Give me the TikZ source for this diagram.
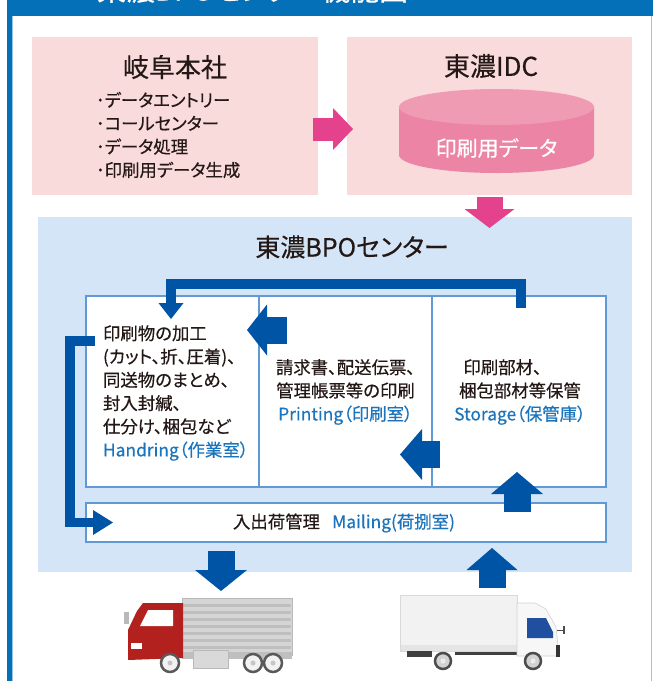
\documentclass[tikz,border=0pt]{standalone}
\usepackage{fontspec}
\setmainfont{Noto Sans CJK JP}[FakeBold=0.45,RawFeature=+palt]
\usetikzlibrary{arrows.meta,calc}

\definecolor{frameblue}{HTML}{0470B8}
\definecolor{framelight}{HTML}{9CC3E6}
\definecolor{pinkbg}{HTML}{F9DBDB}
\definecolor{arrowpink}{HTML}{E5428D}
\definecolor{cyltop}{HTML}{F09BB4}
\definecolor{cylside}{HTML}{EC84A6}
\definecolor{bpobg}{HTML}{D3E5F6}
\definecolor{roomline}{HTML}{5F9AD4}
\definecolor{arrowblue}{HTML}{0054A6}
\definecolor{textblue}{HTML}{1C75BC}
\definecolor{textdark}{HTML}{231815}
\definecolor{truckred}{HTML}{B3211E}
\definecolor{cabblue}{HTML}{1F4F9E}

\begin{document}
\begin{tikzpicture}[x=1pt,y=-1pt,
  every node/.style={inner sep=0pt,outer sep=0pt},
  pinkbox/.style={fill=pinkbg,draw=none},
  bpobox/.style={fill=bpobg,draw=none},
  room/.style={fill=white,draw=roomline,line width=2pt},
  txt/.style={text=textdark},
  body/.style={txt,font=\fontsize{17.4}{23.3}\selectfont},
  blockarrow/.style n args={4}{draw=#4,line width=#1,line join=miter,
    -{Triangle[width=#2,length=#3,line width=0pt]}},
]
\useasboundingbox (0,0) rectangle (653,681);
\fill[white] (0,0) rectangle (653,681);

% outer frame
\fill[frameblue] (7,0) rectangle (12,681);
\fill[frameblue] (7,0) rectangle (653,16);
\draw[framelight,line width=0.8pt] (12.6,16) -- (12.6,681);
\draw[framelight,line width=1pt] (651.5,16) -- (651.5,681);
\node[anchor=base west,text=white,font=\fontsize{29}{29}\selectfont] (title) at (97,0.5) {東濃BPOセンター機能図};

% head office and data center
\node[pinkbox,minimum width=286pt,minimum height=158pt] (hq) at (175,116) {};
\node[pinkbox,minimum width=285pt,minimum height=158pt] (idc) at (489.5,116) {};
\node[txt,font=\fontsize{26}{26}\selectfont] (hqTitle) at (175,67) {岐阜本社};
\node[body,anchor=west,align=left] (hqList) at (96,135)
  {･データエントリー\\･コールセンター\\･データ処理\\･印刷用データ生成};
\node[txt,font=\fontsize{26}{26}\selectfont] (idcTitle) at (491,66) {東濃IDC};

% data cylinder
\fill[cylside] (399,107) -- (399,155)
  arc[start angle=180,end angle=360,x radius=97.5pt,y radius=18pt] -- (594,107) -- cycle;
\fill[cyltop] (496.5,107) ellipse[x radius=97.5pt,y radius=18pt];
\node[text=white,font=\fontsize{21}{21}\selectfont] (cyl) at (496.5,148) {印刷用データ};

% BPO center
\node[bpobox,minimum width=594pt,minimum height=355pt] (bpo) at (335,394.5) {};
\node[txt,font=\fontsize{25}{25}\selectfont] (bpoTitle) at (352,247) {東濃BPOセンター};

\node[room,minimum width=173pt,minimum height=191pt] (hnd) at (172.5,391) {};
\node[room,minimum width=173pt,minimum height=191pt] (prt) at (345.5,391) {};
\node[room,minimum width=174pt,minimum height=191pt] (sto) at (519,391) {};
\node[room,minimum width=520pt,minimum height=39pt] (mail) at (346,522.5) {};

\node[body,anchor=west,align=left] (hndText) at (103,393)
  {印刷物の加工\\(カット、折、圧着)、\\同送物のまとめ、\\封入封緘、\\仕分け、梱包など\\{\color{textblue}Handring（作業室）}};
\node[body,align=center] (prtText) at (345.5,392)
  {請求書、配送伝票、\\管理帳票等の印刷\\{\color{textblue}Printing（印刷室）}};
\node[body,align=center] (stoText) at (520,392)
  {印刷部材、\hspace*{2em}\\梱包部材等保管\\{\color{textblue}Storage（保管庫）}};
\node[body] (mailText) at (344,523)
  {入出荷管理\hspace{0.7em}{\color{textblue}Mailing(荷捌室)}};

% trucks
\coordinate (toTruck) at (221,591);
\coordinate (fromTruck) at (492,588);

% large truck, facing left
\fill[gray!33] (182,598) rectangle (292,655);
\foreach \yy in {604,611,...,648} \fill[gray!50] (183,\yy) rectangle (291,\yy+2.5);
\draw[gray!55,line width=0.6pt] (182,598) rectangle (292,655);
\fill[gray!50] (182,652) rectangle (292,659);
\fill[gray!30] (193,650) rectangle (228,668);
\draw[gray!55,line width=0.6pt] (193,650) rectangle (228,668);
\fill[truckred] (128,630) -- (137,611) -- (143,603) -- (183,603) -- (183,658) -- (128,660) -- cycle;
\fill[white] (140,626) -- (148,610) -- (173,610) -- (173,626) -- cycle;
\fill[white] (131,643) rectangle (142,649);
\fill[gray!55] (124,612) rectangle (129,624);
\foreach \cx in {170,253,273} {
  \filldraw[fill=gray!10,draw=gray!70!black,line width=2.5pt] (\cx,663) circle[radius=9pt];
  \fill[gray!45] (\cx,663) circle[radius=2.5pt];
}

% small truck, facing right
\fill[gray!10] (400,595) rectangle (517,651);
\fill[gray!20] (400,645) rectangle (517,651);
\draw[gray!30,line width=0.6pt] (400,595) rectangle (517,651);
\fill[black!75] (407,651) rectangle (432,657);
\fill[black!75] (455,652) rectangle (520,655);
\fill[gray!6] (517,603) -- (535,603) -- (546,609) -- (556,627) -- (559,656) -- (517,656) -- cycle;
\draw[gray!35,line width=0.6pt] (517,603) -- (535,603) -- (546,609) -- (556,627) -- (559,656) -- (517,656) -- cycle;
\fill[cabblue] (527,618) -- (546,618) -- (553,632) -- (553,638) -- (527,638) -- cycle;
\fill[black!80] (556,645) rectangle (560,657);
\draw[black!70,line width=1pt] (557,630) -- (564,630);
\fill[black!70] (563,626) rectangle (565,634);
\foreach \cx in {443,533} {
  \filldraw[fill=gray!35,draw=gray!60!black,line width=2.5pt] (\cx,661) circle[radius=8pt];
  \fill[gray!15] (\cx,661) circle[radius=2.5pt];
}

% flow arrows
\draw[blockarrow={23pt}{42pt}{20pt}{arrowpink}] ($(hq.east)+(-5,13)$) -- ($(idc.west)+(6,13)$);
\draw[blockarrow={26pt}{50pt}{19pt}{arrowpink}] ($(idc.south)+(0,2)$) -- ($(idc.south)+(0,33)$);

\draw[blockarrow={10pt}{25pt}{16pt}{arrowblue}] ($(sto.north)+(2,12)$) -- ++(0,-23.5) -| ($(hnd.north)+(-1.5,23.5)$);
\draw[blockarrow={27pt}{51pt}{20pt}{arrowblue}] ($(prt.west)+(28,-61)$) -- ($(hnd.east)+(-12,-61)$);
\draw[blockarrow={27pt}{51pt}{22pt}{arrowblue}] ($(sto.west)+(8,63.5)$) -- ($(prt.east)+(-32,63.5)$);
\draw[blockarrow={27pt}{52pt}{22pt}{arrowblue}] ($(mail.north)+(171,9)$) -- ($(sto.south)+(-2,-14.5)$);
\draw[blockarrow={9.5pt}{25pt}{20pt}{arrowblue}] ($(hnd.west)+(9,-50)$) -| ($(mail.west)+(-16,0)$) -- ($(mail.west)+(27,0)$);
\draw[blockarrow={27pt}{52pt}{21pt}{arrowblue}] ($(mail.south)+(-125,9)$) -- (toTruck);
\draw[blockarrow={27pt}{51pt}{22pt}{arrowblue}] (fromTruck) -- ($(mail.south)+(146,6)$);
\end{tikzpicture}
\end{document}
